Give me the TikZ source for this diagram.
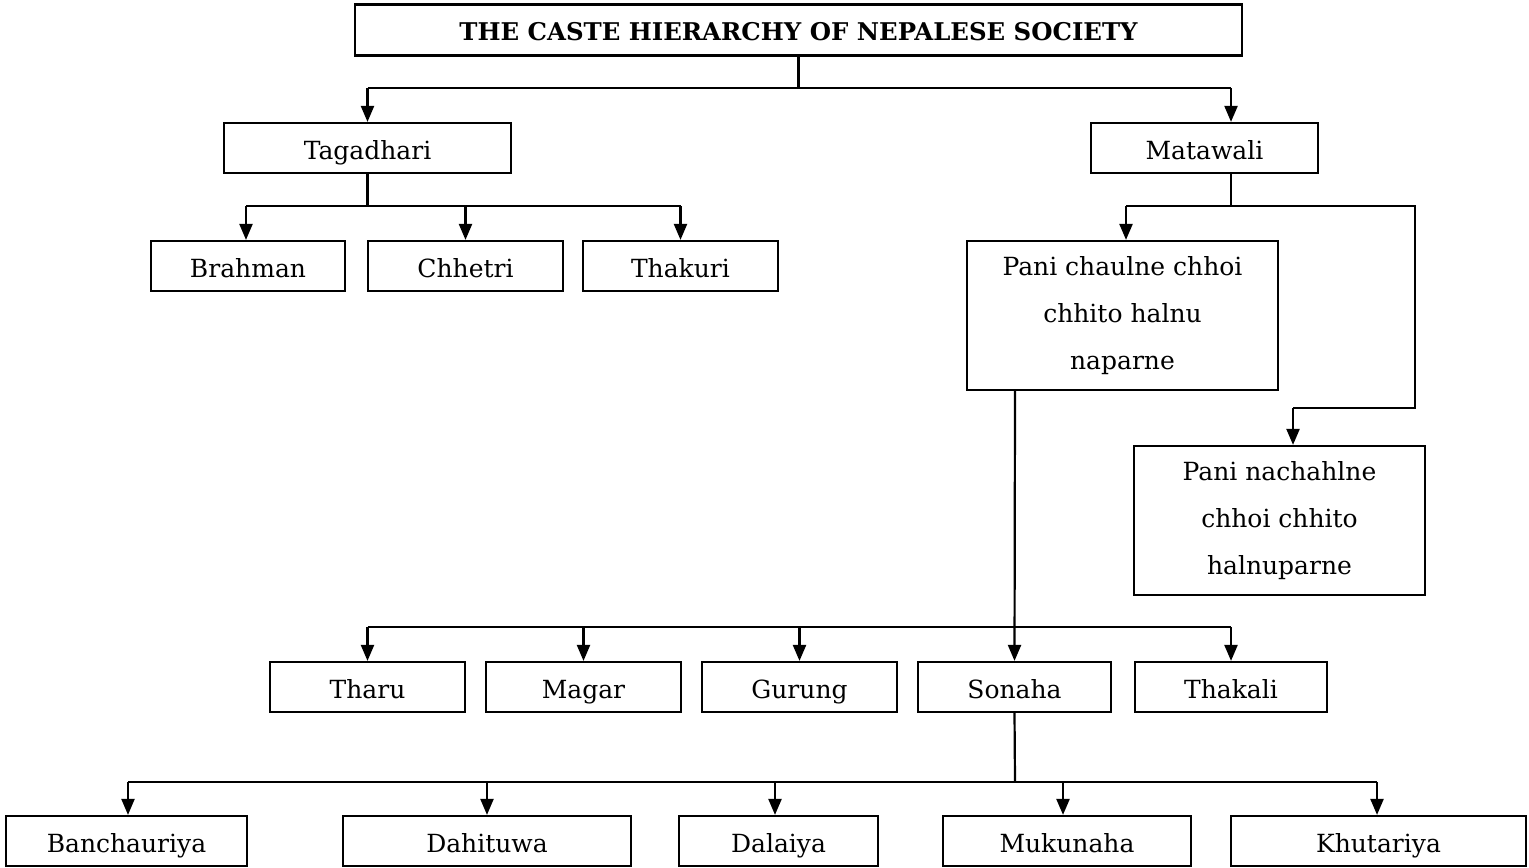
\documentclass[tikz,border=0pt]{standalone}
\usepackage{fontspec}
\setmainfont{DejaVu Serif}
\usetikzlibrary{arrows.meta}
\tikzset{
  basebox/.style={draw, line width=1.1pt, inner sep=0pt, align=center, font=\fontsize{12.5}{23.5}\selectfont},
  box/.style={basebox, minimum height=25pt, text height=12.3pt, text depth=1.2pt},
  tallbox/.style={basebox, minimum height=74.5pt},
  link/.style={line width=1.1pt},
  arr/.style={line width=1.1pt, -{Triangle[width=6.5pt,length=8pt]}},
}
\begin{document}
\begin{tikzpicture}[x=0.5pt,y=-0.5pt]
\useasboundingbox (0,0) rectangle (1529,867);
% nodes
\node[box, minimum width=443.5pt, minimum height=25.5pt, text height=11pt, text depth=1pt, font=\fontsize{12.2}{14}\selectfont\bfseries] (title) at (798.5,30) {THE CASTE HIERARCHY OF NEPALESE SOCIETY};
\node[box, minimum width=143.5pt] (tag) at (367.5,148) {Tagadhari};
\node[box, minimum width=113.5pt] (mat) at (1204.5,148) {Matawali};
\node[box, minimum width=97pt] (brahman) at (248,266) {Brahman};
\node[box, minimum width=97.5pt] (chhetri) at (465.5,266) {Chhetri};
\node[box, minimum width=97.5pt] (thakuri) at (680.5,266) {Thakuri};
\node[tallbox, minimum width=155.5pt] (pcc) at (1122.5,315.5) {Pani chaulne chhoi\\chhito halnu\\naparne};
\node[tallbox, minimum width=145.5pt] (pnc) at (1279.5,520.5) {\raisebox{0pt}[0pt][0pt]{}Pani nachahlne\\chhoi chhito\\halnuparne};
\node[box, minimum width=97.5pt] (tharu) at (367.5,687) {Tharu};
\node[box, minimum width=97.5pt] (magar) at (583.5,687) {Magar};
\node[box, minimum width=97.5pt] (gurung) at (799.5,687) {Gurung};
\node[box, minimum width=96.5pt] (sonaha) at (1014.5,687) {Sonaha};
\node[box, minimum width=96pt] (thakali) at (1231,687) {Thakali};
\node[box, minimum width=120.5pt] (banch) at (126.5,841) {Banchauriya};
\node[box, minimum width=144pt] (dahi) at (487,841) {Dahituwa};
\node[box, minimum width=99.5pt] (dala) at (778.5,841) {Dalaiya};
\node[box, minimum width=124pt] (muku) at (1067,841) {Mukunaha};
\node[box, minimum width=147.5pt] (khut) at (1378.5,841) {Khutariya};
% coordinates
\coordinate (t1) at (367.5,88);
\coordinate (t2) at (1231,88);
\coordinate (a1) at (246,206);
\coordinate (a3) at (680.5,206);
\coordinate (m1) at (1126,206);
\coordinate (m2) at (1415,206);
\coordinate (m3) at (1415,408);
\coordinate (m4) at (1293,408);
\coordinate (p1) at (1015,390);
\coordinate (r1) at (367.5,627);
\coordinate (r2) at (1231,627);
\coordinate (s1) at (1015,782);
\coordinate (q1) at (128,782);
\coordinate (q2) at (1377,782);
\coordinate (q3) at (775,782);
\coordinate (q4) at (1063,782);
% title
\draw[link] (title.south) -- (title.south |- t1);
\draw[link] (t1) -- (t2);
\draw[arr] (t1) -- (tag.north);
\draw[arr] (t2) -- (t2 |- mat.north);
% tagadhari
\draw[link] (tag.south) -- (tag.south |- a1);
\draw[link] (a1) -- (a3);
\draw[arr] (a1) -- (a1 |- brahman.north);
\draw[arr] (chhetri.north |- a1) -- (chhetri.north);
\draw[arr] (a3) -- (a3 |- thakuri.north);
% matawali
\draw[link] (t2 |- mat.south) -- (t2 |- m1);
\draw[link] (m1) -- (m2) -- (m3) -- (m4);
\draw[arr] (m1) -- (m1 |- pcc.north);
\draw[arr] (m4) -- (m4 |- pnc.north);
% pani chaulne
\draw[arr] (p1 |- pcc.south) -- (sonaha.north);
\draw[link] (r1) -- (r2);
\draw[arr] (r1) -- (tharu.north);
\draw[arr] (magar.north |- r1) -- (magar.north);
\draw[arr] (gurung.north |- r1) -- (gurung.north);
\draw[arr] (r2) -- (thakali.north);
% sonaha
\draw[link] (sonaha.south) -- (s1);
\draw[link] (q1) -- (q2);
\draw[arr] (q1) -- (q1 |- banch.north);
\draw[arr] (dahi.north |- q1) -- (dahi.north);
\draw[arr] (q3) -- (q3 |- dala.north);
\draw[arr] (q4) -- (q4 |- muku.north);
\draw[arr] (q2) -- (q2 |- khut.north);
\end{tikzpicture}
\end{document}
